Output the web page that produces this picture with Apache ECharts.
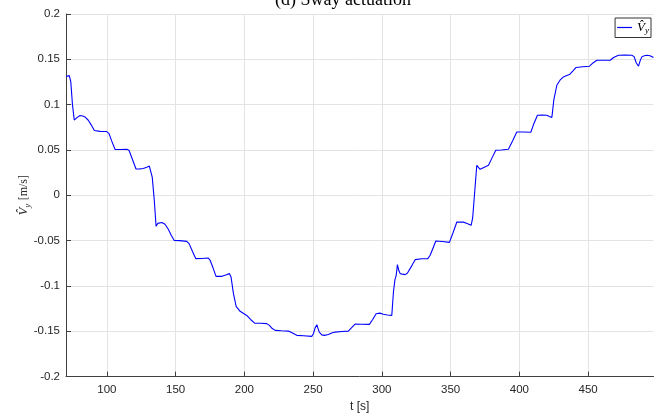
<!DOCTYPE html>
<html>
<head>
<meta charset="utf-8">
<script src="https://cdn.jsdelivr.net/npm/echarts@6/dist/echarts.min.js"></script>
<style>html,body{margin:0;padding:0;background:#fff}#c{width:662px;height:419px}</style>
</head>
<body>
<div id="c"></div>
<script>
const time = [70.3,71.5,72.7,73.8,75.0,76.3,77.4,78.5,80.5,82.5,84.1,86.5,88.5,90.9,95,99.9,101.6,103.5,106,110,114.5,116.1,118.5,121.2,124,126.5,129,130.9,132.1,133,134.5,135.8,137,138.2,140,142.3,144.7,146.8,148.9,153,158.1,159.8,162.3,164.7,169,173.8,175.1,177.2,179.4,183.6,186.5,189.1,190.3,192,194,196.9,198.1,201.7,204.5,207.5,212,216.3,218.2,220.3,222.4,227,232,235,238.1,243,249,250.2,251.5,252.7,253.6,254.5,256.3,258.2,261.1,263.5,266,271,275.6,278,280.5,285,290.9,293.3,295.8,298.5,301.1,304,307.2,308.4,309.5,310.4,311.3,312.3,313.3,315,316.9,318.5,319.8,322,324.2,329,333.4,335.1,337,339.2,344,349.1,351.8,354.5,359.3,362,364.9,366,367.3,369,370,371.4,374.5,377.5,380,382.8,387,392,395,398.1,403,408.3,410.5,413.1,416.5,419.9,421.8,423.6,425,427.2,429.5,432,434,436.4,438.8,441.2,446,451,453.5,456.3,461,466,468.5,472,477,481.7,483.4,485,486.6,487.7,489,490.8,492.6,495,497.5];
const vy = [0.131,0.1325,0.132,0.125,0.100,0.083,0.0817,0.086,0.088,0.0875,0.0864,0.0828,0.078,0.0715,0.0705,0.0703,0.068,0.060,0.0505,0.0505,0.0508,0.0497,0.040,0.029,0.0292,0.0295,0.031,0.0323,0.0306,0.02,-0.0055,-0.0342,-0.031,-0.029,-0.030,-0.032,-0.0375,-0.044,-0.0497,-0.050,-0.0508,-0.0533,-0.062,-0.0699,-0.0697,-0.0692,-0.0717,-0.080,-0.0894,-0.0894,-0.088,-0.0864,-0.090,-0.108,-0.1225,-0.128,-0.130,-0.1325,-0.137,-0.141,-0.1412,-0.1416,-0.1435,-0.147,-0.149,-0.1495,-0.1498,-0.152,-0.1545,-0.155,-0.1556,-0.1527,-0.146,-0.1427,-0.147,-0.151,-0.1540,-0.1545,-0.1535,-0.152,-0.1509,-0.1502,-0.1498,-0.146,-0.142,-0.1422,-0.1424,-0.137,-0.1306,-0.130,-0.1312,-0.132,-0.1325,-0.1067,-0.093,-0.0883,-0.0765,-0.083,-0.0864,-0.087,-0.0875,-0.086,-0.0846,-0.077,-0.071,-0.070,-0.0699,-0.0662,-0.059,-0.0504,-0.051,-0.0519,-0.041,-0.0294,-0.0296,-0.031,-0.0331,-0.025,0.0,0.0331,0.031,0.0287,0.031,0.0331,0.041,0.0497,0.050,0.0508,0.060,0.0699,0.0698,0.0695,0.079,0.0883,0.0884,0.0883,0.087,0.0858,0.105,0.1214,0.127,0.1306,0.1318,0.1332,0.137,0.141,0.1418,0.1424,0.146,0.149,0.149,0.149,0.152,0.1545,0.1548,0.1545,0.153,0.146,0.1424,0.148,0.1527,0.154,0.1545,0.154,0.152];
const xTicks = [100,150,200,250,300,350,400,450];
const yTicks = [-0.2,-0.15,-0.1,-0.05,0,0.05,0.1,0.15,0.2];
const titleText = '(d) Sway actuation';
const xName = 't [s]';

const chart = echarts.init(document.getElementById('c'), null, {renderer:'canvas'});
const sans = 'Liberation Sans';
const serif = 'Liberation Serif';
const axisCol = '#404040';
const gridCol = '#e3e3e3';
chart.setOption({
  animation:false,
  title:{text:titleText,left:338,textAlign:'center',top:-14,
    textStyle:{fontFamily:serif,fontSize:18,fontWeight:'normal',color:'#000'}},
  grid:{left:66,right:8.5,top:14,bottom:42.4},
  legend:{right:11,top:18,orient:'vertical',itemWidth:15,itemHeight:1.2,itemGap:0,
    icon:'rect',borderColor:'#333',borderWidth:1,backgroundColor:'#fff',padding:[3,2,2,2],
    formatter:()=>'{v|V\u0302}{s|y}',
    textStyle:{rich:{
      v:{fontFamily:serif,fontStyle:'italic',fontSize:13,color:'#000'},
      s:{fontFamily:serif,fontStyle:'italic',fontSize:9,color:'#000',padding:[7,0,0,0]}}}},
  xAxis:{type:'value',min:70.3,max:497.5,
    name:xName,nameLocation:'middle',nameGap:24,
    nameTextStyle:{fontFamily:sans,fontSize:12,color:'#262626'},
    axisLine:{show:true,onZero:false,lineStyle:{color:axisCol,width:1}},
    axisTick:{show:true,inside:true,length:5,customValues:xTicks,lineStyle:{color:axisCol}},
    axisLabel:{customValues:xTicks,fontFamily:sans,fontSize:11.5,color:'#262626',margin:7},
    splitLine:{show:true,lineStyle:{color:gridCol,width:1}}},
  yAxis:{type:'value',min:-0.2,max:0.2,interval:0.05,
    name:'{v|V\u0302}{s|y} {n|[m/s]}',nameLocation:'middle',nameGap:34,nameRotate:90,
    nameMoveOverlap:false,
    nameTextStyle:{rich:{
      v:{fontFamily:serif,fontStyle:'italic',fontSize:13,color:'#262626'},
      s:{fontFamily:serif,fontStyle:'italic',fontSize:9,color:'#262626',padding:[7,0,0,0]},
      n:{fontFamily:serif,fontSize:12,color:'#262626'}}},
    axisLine:{show:true,lineStyle:{color:axisCol,width:1}},
    axisTick:{show:true,inside:true,length:5,lineStyle:{color:axisCol}},
    axisLabel:{fontFamily:sans,fontSize:11.5,color:'#262626',margin:6,
      formatter:v=>String(+v.toFixed(2))},
    splitLine:{show:true,lineStyle:{color:gridCol,width:1}}},
  series:[{type:'line',name:'Vy',data:time.map((t,i)=>[t,vy[i]]),
    symbol:'none',smooth:false,lineStyle:{color:'#0000ff',width:1.1},itemStyle:{color:'#0000ff'}}]
});
</script>
</body>
</html>
